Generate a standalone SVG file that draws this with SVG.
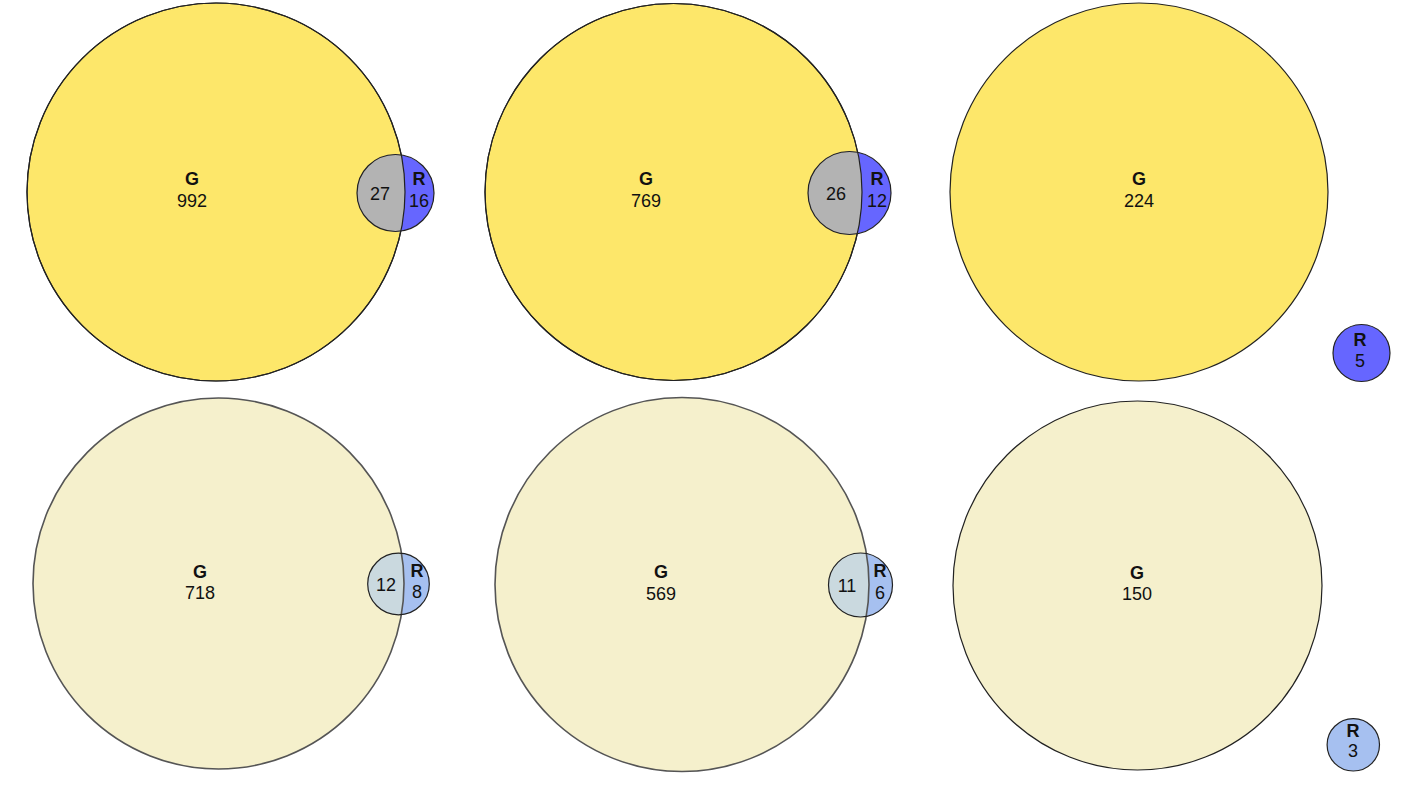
<svg xmlns="http://www.w3.org/2000/svg" width="1405" height="786" viewBox="0 0 1405 786">
<style>
text{font-family:"Liberation Sans",Arial,sans-serif;font-size:18px;fill:#111;text-anchor:middle}
.b{font-weight:bold}
.y{fill:#fde76a;stroke:#222;stroke-width:1.2}
.p{fill:#f5f0cc;stroke:none}
.blue{fill:#6666ff}
.lb{fill:#a6c0f0}
.gr{fill:#b3b3b3}
.lg{fill:#cad9df}
.s{fill:none;stroke:#222;stroke-width:1.2}
.s2{fill:none;stroke:#555;stroke-width:1.6}
</style>
<defs>
<clipPath id="c1"><circle cx="216" cy="192" r="189"/></clipPath>
<clipPath id="c2"><circle cx="673.5" cy="192" r="188.5"/></clipPath>
<clipPath id="c4"><circle cx="218.5" cy="583.5" r="185.5"/></clipPath>
<clipPath id="c5"><circle cx="682" cy="584.5" r="187"/></clipPath>
</defs>
<g id="venn1">
<circle class="y" cx="216" cy="192" r="189"/>
<circle class="blue" cx="395.5" cy="193" r="38.5"/>
<circle class="gr" cx="395.5" cy="193" r="38.5" clip-path="url(#c1)"/>
<circle class="s" cx="216" cy="192" r="189"/>
<circle class="s" cx="395.5" cy="193" r="38.5"/>
<text class="b" x="192" y="185">G</text><text x="192" y="207">992</text>
<text x="380" y="200">27</text>
<text class="b" x="419" y="185">R</text><text x="419" y="207">16</text>
</g>
<g id="venn2">
<circle class="y" cx="673.5" cy="192" r="188.5"/>
<circle class="blue" cx="849.5" cy="193" r="41.5"/>
<circle class="gr" cx="849.5" cy="193" r="41.5" clip-path="url(#c2)"/>
<circle class="s" cx="673.5" cy="192" r="188.5"/>
<circle class="s" cx="849.5" cy="193" r="41.5"/>
<text class="b" x="646" y="185">G</text><text x="646" y="207">769</text>
<text x="836" y="200">26</text>
<text class="b" x="877" y="185">R</text><text x="877" y="207">12</text>
</g>
<g id="venn3">
<circle class="y" cx="1139" cy="192" r="189"/>
<text class="b" x="1139" y="185">G</text><text x="1139" y="207">224</text>
<circle class="blue" cx="1361.5" cy="353" r="28.5" stroke="#222" stroke-width="1.2"/>
<text class="b" x="1360" y="346">R</text><text x="1360" y="367">5</text>
</g>
<g id="venn4">
<circle class="p" cx="218.5" cy="583.5" r="185.5"/>
<circle class="lb" cx="398.5" cy="584" r="30.8"/>
<circle class="lg" cx="398.5" cy="584" r="30.8" clip-path="url(#c4)"/>
<circle class="s2" cx="218.5" cy="583.5" r="185.5"/>
<circle class="s" cx="398.5" cy="584" r="30.8"/>
<text class="b" x="200" y="578">G</text><text x="200" y="599">718</text>
<text x="386" y="591">12</text>
<text class="b" x="417" y="577">R</text><text x="417" y="598">8</text>
</g>
<g id="venn5">
<circle class="p" cx="682" cy="584.5" r="187"/>
<circle class="lb" cx="860.5" cy="585" r="32"/>
<circle class="lg" cx="860.5" cy="585" r="32" clip-path="url(#c5)"/>
<circle class="s2" cx="682" cy="584.5" r="187"/>
<circle class="s" cx="860.5" cy="585" r="32"/>
<text class="b" x="661" y="578">G</text><text x="661" y="600">569</text>
<text x="847" y="592">11</text>
<text class="b" x="880" y="577">R</text><text x="880" y="599">6</text>
</g>
<g id="venn6">
<circle class="p" cx="1137.5" cy="585.5" r="184.5"/>
<circle class="s" cx="1137.5" cy="585.5" r="184.5"/>
<text class="b" x="1137" y="579">G</text><text x="1137" y="600">150</text>
<circle class="lb" cx="1353.3" cy="744.8" r="26.2" stroke="#222" stroke-width="1.2"/>
<text class="b" x="1353" y="737">R</text><text x="1353" y="757">3</text>
</g>
<g id="connectors"></g>
</svg>
